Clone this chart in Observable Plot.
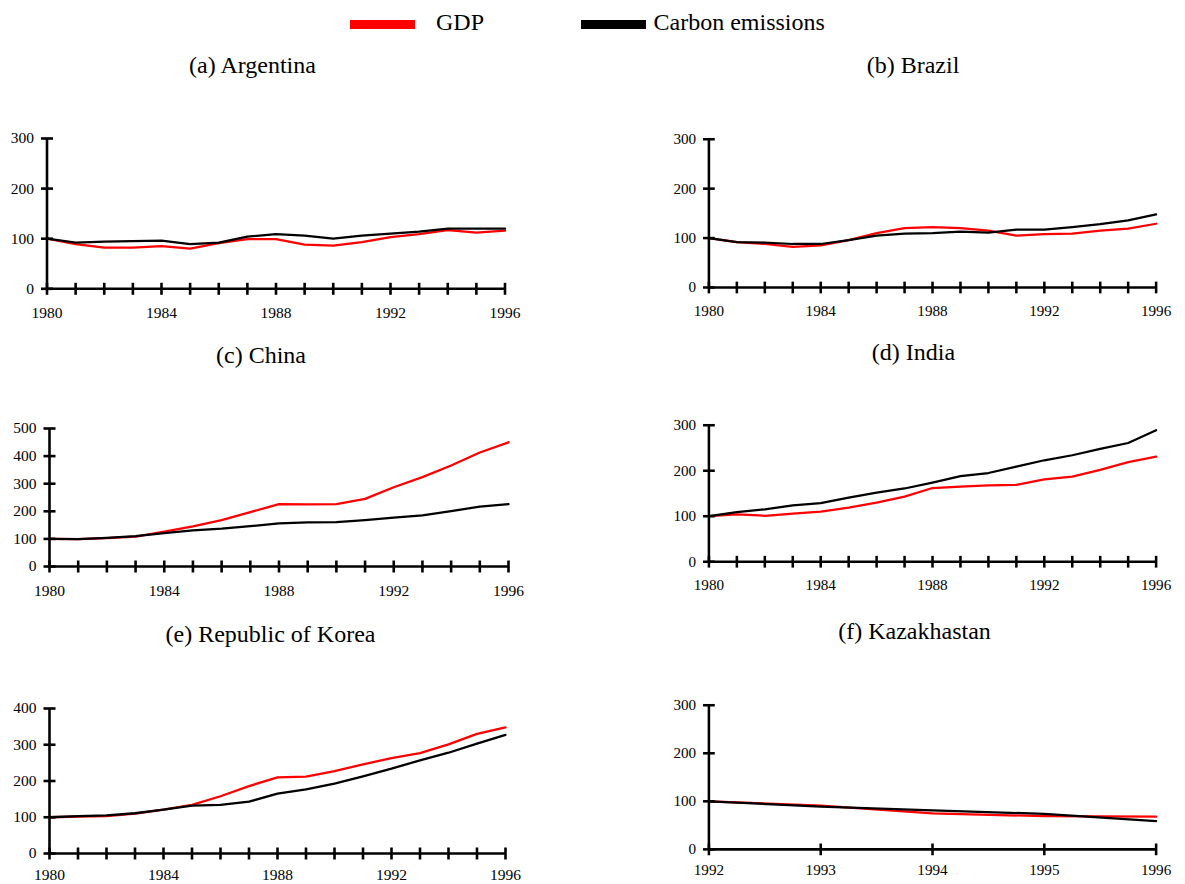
<!DOCTYPE html>
<html><head><meta charset="utf-8">
<script src="https://cdn.jsdelivr.net/npm/d3@7"></script>
<script src="https://cdn.jsdelivr.net/npm/@observablehq/plot@0.6"></script>
<style>
body{margin:0;background:#fff;font-family:"Liberation Serif","Times New Roman",serif;}
#root{position:relative;width:1185px;height:884px;overflow:hidden;background:#fff;}
.t{position:absolute;white-space:nowrap;line-height:1;color:#000;font-family:"Liberation Serif","Times New Roman",serif;}
.sw{position:absolute;}
.p{position:absolute;}
.p svg, .p svg text, .p svg g{font-family:"Liberation Serif","Times New Roman",serif !important;}
.p svg text{font-size:15.5px !important;fill:#000;}
</style></head><body><div id="root"></div>
<script>
// ---- data ----
const years = [1980,1981,1982,1983,1984,1985,1986,1987,1988,1989,1990,1991,1992,1993,1994,1995,1996];
const yearLabels = [1980,1984,1988,1992,1996];
const kazYears = [1992,1993,1994,1995,1996];
const kazYearLabels = [1992,1993,1994,1995,1996];

const argentinaGDP = [100,89,82,82,85,80,91,99,99,88,86,93,103,109,117,112,116];
const argentinaCO2 = [100,92,94,95,96,89,92,104,109,106,100,106,110,114,120,120,120];
const brazilGDP = [100,92,88,82,85,96,110,120,122,120,115,105,108,109,115,119,129];
const brazilCO2 = [100,92,91,88,88,96,105,109,110,113,111,117,117,122,128,136,148];
const chinaGDP = [100,99,103,108,126,145,168,197,226,225,226,245,287,324,366,413,450];
const chinaCO2 = [100,99,104,110,121,131,137,146,156,160,161,168,177,185,201,217,226];
const indiaGDP = [100,104,101,106,110,119,130,143,162,165,168,169,181,187,202,219,231];
const indiaCO2 = [100,109,115,124,129,141,152,161,174,188,195,209,223,234,248,261,289];
const koreaGDP = [100,102,103,110,121,134,158,186,210,212,227,246,263,277,301,330,348];
const koreaCO2 = [100,103,105,111,121,132,134,143,165,177,193,213,234,257,278,303,327];
const kazGDP = [100,91,75,69,68];
const kazCO2 = [100,89,81,74,59];

const yTicks300 = [0,100,200,300];
const yTicks400 = [0,100,200,300,400];
const yTicks500 = [0,100,200,300,400,500];

const seriesNames = ["GDP","Carbon emissions"];
const seriesColors = ["#ff0000","#000000"];
const titles = ["(a) Argentina","(b) Brazil","(c) China","(d) India","(e) Republic of Korea","(f) Kazakhastan"];

// ---- layout ----
const root = document.getElementById("root");
const FONT = '"Liberation Serif","Times New Roman",serif';

function addText(str, size, x, baseline, center){
  const d = document.createElement("div");
  d.className = "t";
  d.textContent = str;
  d.style.fontSize = size + "px";
  d.style.left = x + "px";
  d.style.top = (baseline - 0.8375*size) + "px";
  if (center) d.style.transform = "translateX(-50%)";
  root.appendChild(d);
}
function addSwatch(color, x, y, w, h){
  const d = document.createElement("div");
  d.className = "sw";
  Object.assign(d.style,{left:x+"px",top:y+"px",width:w+"px",height:h+"px",background:color});
  root.appendChild(d);
}

// legend
addSwatch(seriesColors[0], 350, 20, 65, 9);
addText(seriesNames[0], 24, 436, 30.5, false);
addSwatch(seriesColors[1], 581, 20, 65, 9);
addText(seriesNames[1], 24, 653.5, 30.5, false);

const vTick = {draw(ctx){ctx.moveTo(0,-6);ctx.lineTo(0,6);}};
const hTick = {draw(ctx){ctx.moveTo(-6,0);ctx.lineTo(6,0);}};

function panel(cfg){
  const {left, x0, x1, yTop, yBot, xs, xLabels, yTicks, gdp, co2, pad = 18} = cfg;
  const mt = 12, mb = 40, mr = 30;
  const W = x1 - left + mr, H = (yBot - yTop) + mt + mb;
  const rows = xs.map((x,i)=>({x, gdp: gdp[i], co2: co2[i]}));
  const yMax = yTicks[yTicks.length-1];
  const chart = Plot.plot({
    width: W, height: H,
    marginLeft: x0 - left, marginRight: mr, marginTop: mt, marginBottom: mb,
    style: {fontFamily: FONT, fontSize: "15.5px", background: "transparent", overflow: "visible", color: "#000"},
    x: {domain: [xs[0], xs[xs.length-1]]},
    y: {domain: [0, yMax]},
    marks: [
      Plot.line(rows, {x: "x", y: "gdp", stroke: seriesColors[0], strokeWidth: 2.3}),
      Plot.line(rows, {x: "x", y: "co2", stroke: seriesColors[1], strokeWidth: 2.3}),
      Plot.ruleY([0], {stroke: "#000", strokeWidth: 2.6}),
      Plot.ruleX([xs[0]], {stroke: "#000", strokeWidth: 2.6}),
      Plot.dot(xs, {x: d => d, y: () => 0, symbol: vTick, fill: "none", stroke: "#000", strokeWidth: 2.6}),
      Plot.dot(yTicks, {x: () => xs[0], y: d => d, symbol: hTick, fill: "none", stroke: "#000", strokeWidth: 2.6}),
      Plot.axisX({ticks: xLabels, tickSize: 0, tickPadding: pad, tickFormat: d => String(d), fontSize: 15.5, fontFamily: FONT, fill: "#000", label: null}),
      Plot.axisY({ticks: yTicks, tickSize: 0, tickPadding: 13, tickFormat: d => String(d), fontSize: 15.5, fontFamily: FONT, fill: "#000", label: null})
    ]
  });
  const wrap = document.createElement("div");
  wrap.className = "p";
  wrap.style.left = left + "px";
  wrap.style.top = (yTop - mt) + "px";
  wrap.appendChild(chart);
  root.appendChild(wrap);
}

panel({left:0, x0:46.5, x1:504.5, yTop:137.7, yBot:288, xs:years, xLabels:yearLabels, yTicks:yTicks300, gdp:argentinaGDP, co2:argentinaCO2});
panel({left:590, x0:711, x1:1168, yTop:139, yBot:290.5, xs:years, xLabels:yearLabels, yTicks:yTicks300, gdp:brazilGDP, co2:brazilCO2});
panel({left:0, x0:49, x1:508, yTop:427.5, yBot:565.5, xs:years, xLabels:yearLabels, yTicks:yTicks500, gdp:chinaGDP, co2:chinaCO2});
panel({left:590, x0:711, x1:1168, yTop:425, yBot:564.5, xs:years, xLabels:yearLabels, yTicks:yTicks300, gdp:indiaGDP, co2:indiaCO2});
panel({left:0, x0:49, x1:505, yTop:708, yBot:853, xs:years, xLabels:yearLabels, yTicks:yTicks400, gdp:koreaGDP, co2:koreaCO2, pad:15});
panel({left:590, x0:711, x1:1168, yTop:705, yBot:852.3, xs:kazYears, xLabels:kazYearLabels, yTicks:yTicks300, gdp:kazGDP, co2:kazCO2, pad:15.5});

// titles
addText(titles[0], 24, 252.5, 72.7, true);
addText(titles[1], 24, 913, 72.7, true);
addText(titles[2], 24, 261, 362.7, true);
addText(titles[3], 24, 913.5, 359.7, true);
addText(titles[4], 24, 270.5, 641.7, true);
addText(titles[5], 24, 914.5, 638.7, true);
</script></body></html>
